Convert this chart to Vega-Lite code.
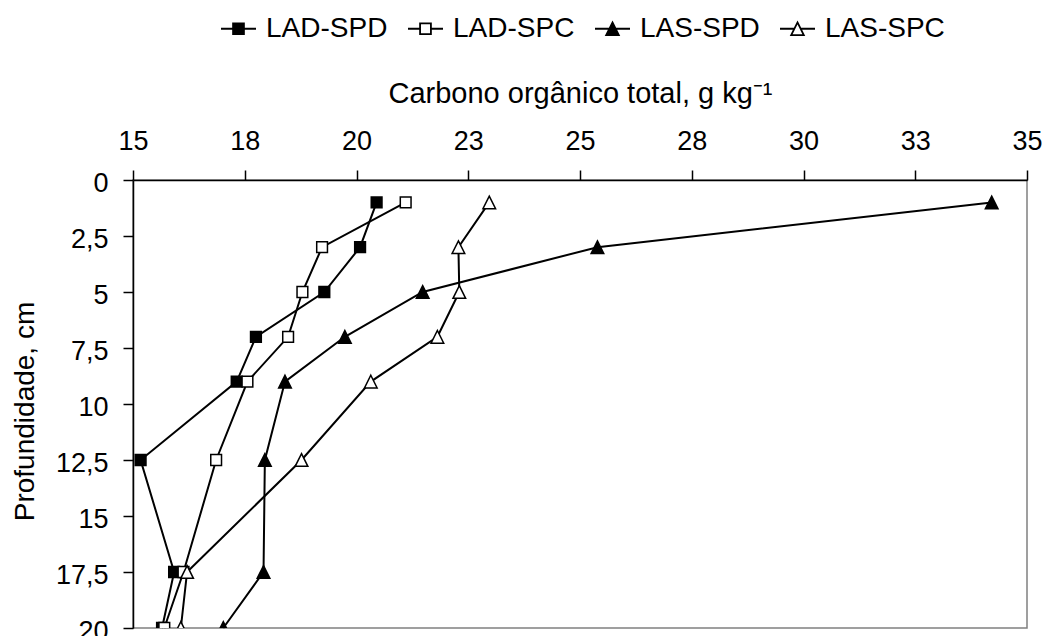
{
  "$schema": "https://vega.github.io/schema/vega-lite/v6.json",
  "autosize": {"type": "none"},
  "padding": {"left": 133, "top": 180, "right": 20, "bottom": 8},
  "width": 894,
  "height": 448,
  "background": "white",
  "config": {
    "font": "Liberation Sans",
    "view": {"stroke": "#808080", "strokeWidth": 1.5},
    "axis": {"grid": false, "domainColor": "black", "domainWidth": 1.5, "tickColor": "black", "tickWidth": 1.5, "tickSize": 10, "labelFontSize": 27, "labelColor": "black", "labelFont": "Liberation Sans", "titleFont": "Liberation Sans", "titleFontSize": 28, "titleFontWeight": "normal", "titleColor": "black", "labelPadding": 15, "labelFlush": false}
  },
  "data": {
    "values": [
      {"series": "LAD-SPD", "depth": 1, "carbon": 20.45},
      {"series": "LAD-SPD", "depth": 3, "carbon": 20.08},
      {"series": "LAD-SPD", "depth": 5, "carbon": 19.28},
      {"series": "LAD-SPD", "depth": 7, "carbon": 17.75},
      {"series": "LAD-SPD", "depth": 9, "carbon": 17.32},
      {"series": "LAD-SPD", "depth": 12.5, "carbon": 15.17},
      {"series": "LAD-SPD", "depth": 17.5, "carbon": 15.92},
      {"series": "LAD-SPD", "depth": 20, "carbon": 15.65},
      {"series": "LAD-SPC", "depth": 1, "carbon": 21.10},
      {"series": "LAD-SPC", "depth": 3, "carbon": 19.23},
      {"series": "LAD-SPC", "depth": 5, "carbon": 18.79},
      {"series": "LAD-SPC", "depth": 7, "carbon": 18.47},
      {"series": "LAD-SPC", "depth": 9, "carbon": 17.56},
      {"series": "LAD-SPC", "depth": 12.5, "carbon": 16.86},
      {"series": "LAD-SPC", "depth": 17.5, "carbon": 16.13},
      {"series": "LAD-SPC", "depth": 20, "carbon": 15.70},
      {"series": "LAS-SPD", "depth": 1, "carbon": 34.21},
      {"series": "LAS-SPD", "depth": 3, "carbon": 25.39},
      {"series": "LAS-SPD", "depth": 5, "carbon": 21.48},
      {"series": "LAS-SPD", "depth": 7, "carbon": 19.74},
      {"series": "LAS-SPD", "depth": 9, "carbon": 18.40},
      {"series": "LAS-SPD", "depth": 12.5, "carbon": 17.95},
      {"series": "LAS-SPD", "depth": 17.5, "carbon": 17.92},
      {"series": "LAS-SPD", "depth": 20, "carbon": 17.02},
      {"series": "LAS-SPC", "depth": 1, "carbon": 22.97},
      {"series": "LAS-SPC", "depth": 3, "carbon": 22.28},
      {"series": "LAS-SPC", "depth": 5, "carbon": 22.30},
      {"series": "LAS-SPC", "depth": 7, "carbon": 21.81},
      {"series": "LAS-SPC", "depth": 9, "carbon": 20.32},
      {"series": "LAS-SPC", "depth": 12.5, "carbon": 18.77},
      {"series": "LAS-SPC", "depth": 17.5, "carbon": 16.21},
      {"series": "LAS-SPC", "depth": 20, "carbon": 16.07}
    ]
  },
  "encoding": {
    "x": {
      "field": "carbon", "type": "quantitative",
      "scale": {"domain": [15, 35], "nice": false, "zero": false},
      "axis": {"orient": "top", "values": [15, 17.5, 20, 22.5, 25, 27.5, 30, 32.5, 35], "format": ".0f", "title": "Carbono orgânico total, g kg⁻¹", "titleFontSize": 29, "titleY": -78, "titleBaseline": "alphabetic"}
    },
    "y": {
      "field": "depth", "type": "quantitative",
      "scale": {"domain": [0, 20], "reverse": true, "nice": false, "zero": false},
      "axis": {"values": [0, 2.5, 5, 7.5, 10, 12.5, 15, 17.5, 20], "format": ".1~f", "labelExpr": "replace(datum.label, '.', ',')", "labelOffset": 3, "title": "Profundidade, cm", "titleX": -100, "titleY": 231, "titleAngle": -90, "titleBaseline": "alphabetic", "titleAlign": "center"}
    }
  },
  "layer": [
    {
      "mark": {"type": "line", "color": "black", "strokeWidth": 2},
      "encoding": {
        "detail": {"field": "series", "type": "nominal"},
        "order": {"field": "depth", "type": "quantitative"}
      }
    },
    {
      "mark": {"type": "point", "filled": true, "stroke": "black", "strokeWidth": 1.5, "size": 160, "opacity": 1, "clip": true},
      "encoding": {
        "shape": {"field": "series", "type": "nominal", "scale": {"domain": ["LAD-SPD", "LAD-SPC", "LAS-SPD", "LAS-SPC"], "range": ["M-0.85,-0.85H0.85V0.85H-0.85Z", "M-0.85,-0.85H0.85V0.85H-0.85Z", "M0,-1L1,1H-1Z", "M0,-1L1,1H-1Z"]}, "legend": null},
        "fill": {"field": "series", "type": "nominal", "scale": {"domain": ["LAD-SPD", "LAD-SPC", "LAS-SPD", "LAS-SPC"], "range": ["black", "white", "black", "white"]}, "legend": null}
      }
    },
    {
      "mark": {"type": "point", "filled": true, "stroke": "black", "strokeWidth": 1.5, "size": 1225, "opacity": 0, "clip": true},
      "encoding": {
        "shape": {"field": "series", "type": "nominal", "scale": {"domain": ["LAD-SPD", "LAD-SPC", "LAS-SPD", "LAS-SPC"], "range": ["M-1,0H-0.31M0.31,0H1M-0.31,-0.31H0.31V0.31H-0.31Z", "M-1,0H-0.31M0.31,0H1M-0.31,-0.31H0.31V0.31H-0.31Z", "M-1,0H-0.18M0.18,0H1M0,-0.36L0.36,0.36H-0.36Z", "M-1,0H-0.18M0.18,0H1M0,-0.36L0.36,0.36H-0.36Z"]},
          "legend": {"orient": "none", "direction": "horizontal", "columns": 4, "legendX": 87, "legendY": -170, "padding": 0, "title": null, "symbolSize": 1225, "symbolOpacity": 1, "symbolStrokeColor": "black", "symbolStrokeWidth": 1.8, "labelFontSize": 28, "labelFont": "Liberation Sans", "labelColor": "black", "labelOffset": 9, "columnPadding": 16, "labelLimit": 300,
            "encode": {"symbols": {"update": {"stroke": {"value": "black"}, "strokeWidth": {"value": 1.8}, "opacity": {"value": 1}}}}}},
        "fill": {"field": "series", "type": "nominal", "scale": {"domain": ["LAD-SPD", "LAD-SPC", "LAS-SPD", "LAS-SPC"], "range": ["black", "white", "black", "white"]},
          "legend": {"orient": "none", "direction": "horizontal", "columns": 4, "legendX": 87, "legendY": -170, "padding": 0, "title": null, "symbolSize": 1225, "symbolOpacity": 1, "symbolStrokeColor": "black", "symbolStrokeWidth": 1.8, "labelFontSize": 28, "labelFont": "Liberation Sans", "labelColor": "black", "labelOffset": 9, "columnPadding": 16, "labelLimit": 300,
            "encode": {"symbols": {"update": {"stroke": {"value": "black"}, "strokeWidth": {"value": 1.8}, "opacity": {"value": 1}}}}}}
      }
    }
  ],
  "resolve": {"scale": {"shape": "independent", "fill": "independent"}}
}
